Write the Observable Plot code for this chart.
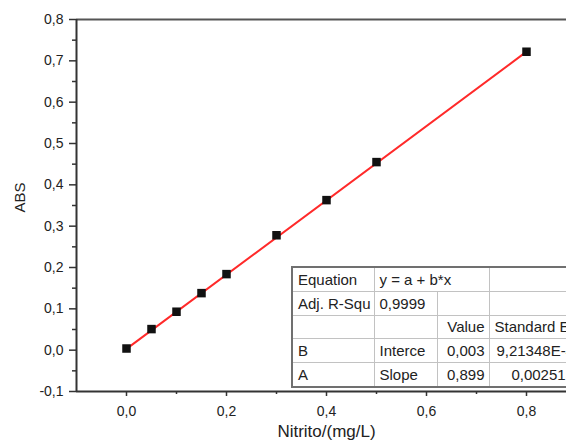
<!DOCTYPE html>
<html>
<head>
<meta charset="utf-8">
<script src="https://cdn.jsdelivr.net/npm/d3@7"></script>
<script src="https://cdn.jsdelivr.net/npm/@observablehq/plot@0.6"></script>
<style>
  html, body { margin: 0; padding: 0; background: #fff; overflow: hidden; }
  #wrap { position: relative; width: 566px; height: 446px; overflow: hidden; background: #fff; }
  #fitTable {
    position: absolute; left: 291px; top: 266px;
    border-collapse: collapse; table-layout: fixed;
    font-family: "Liberation Sans", Arial, sans-serif; font-size: 15px; color: #222;
    background: #fff; border: 2px solid #707070;
  }
  #fitTable td {
    border: 1.5px solid #c2c2c2; height: 21.8px; padding: 1px 0 0 0;
    white-space: nowrap; overflow: hidden; vertical-align: middle; line-height: 18px;
  }
  #fitTable td.l { text-align: left; padding-left: 5px; }
  #fitTable td.r { text-align: right; padding-right: 4px; }
</style>
</head>
<body>
<div id="wrap"></div>
<script>
// ---- data ----
const nitrito = [0, 0.05, 0.1, 0.15, 0.2, 0.3, 0.4, 0.5, 0.8];
const abs = [0.004, 0.051, 0.093, 0.138, 0.184, 0.278, 0.363, 0.455, 0.722];
const fitIntercept = 0.003;
const fitSlope = 0.899;
const fitXRange = [0, 0.8];
const xMajorTicks = [0, 0.2, 0.4, 0.6, 0.8];
const xMinorTicks = [0.1, 0.3, 0.5, 0.7];
const yMajorTicks = [-0.1, 0, 0.1, 0.2, 0.3, 0.4, 0.5, 0.6, 0.7, 0.8];
const yMinorTicks = [-0.05, 0.05, 0.15, 0.25, 0.35, 0.45, 0.55, 0.65, 0.75];
const xTitle = "Nitrito/(mg/L)";
const yTitle = "ABS";
const colWidths = [82, 63, 52, 90];
const tableRows = [
  [["Equation", "l"], ["y = a + b*x", "l", 2], ["", "l"]],
  [["Adj. R-Squ", "l"], ["0,9999", "l"], ["", "l"], ["", "l"]],
  [["", "l"], ["", "l"], ["Value", "r"], ["Standard Error", "l"]],
  [["B", "l"], ["Interce", "l"], ["0,003", "r"], ["9,21348E-4", "r"]],
  [["A", "l"], ["Slope", "l"], ["0,899", "r"], ["0,002513", "r"]]
];

// ---- build ----
const points = nitrito.map((x, i) => ({x, y: abs[i]}));
const fit = fitXRange.map(x => ({x, y: fitIntercept + fitSlope * x}));
const fmt = d => (Math.abs(d) < 1e-9 ? 0 : d).toFixed(1).replace(".", ",");

const chart = Plot.plot({
  width: 566,
  height: 446,
  marginLeft: 76,
  marginRight: -10,
  marginTop: 19,
  marginBottom: 55,
  x: {domain: [-0.1, 0.9]},
  y: {domain: [-0.1, 0.8]},
  style: {fontFamily: "'Liberation Sans', Arial, sans-serif", fontSize: "14px", color: "#222", background: "#fff"},
  marks: [
    Plot.axisY(yMinorTicks, {tickSize: 4, tickFormat: () => "", label: null, stroke: "#333", strokeWidth: 1.5}),
    Plot.axisY(yMajorTicks, {tickSize: 7, tickPadding: 6, tickFormat: fmt, label: null, stroke: "#333", strokeWidth: 1.5, fontSize: 14}),
    Plot.axisX(xMinorTicks, {tickSize: 3, tickFormat: () => "", label: null, stroke: "#333", strokeWidth: 1.5}),
    Plot.axisX(xMajorTicks, {tickSize: 5, tickPadding: 10, tickFormat: fmt, label: null, stroke: "#333", strokeWidth: 1.5, fontSize: 14}),
    Plot.ruleY([0.8], {stroke: "#555", strokeWidth: 2}),
    Plot.ruleX([-0.1], {stroke: "#333", strokeWidth: 2}),
    Plot.ruleY([-0.1], {stroke: "#333", strokeWidth: 2}),
    Plot.line(fit, {x: "x", y: "y", stroke: "#ff2a2a", strokeWidth: 2}),
    Plot.dot(points, {x: "x", y: "y", symbol: "square", r: 4.8, fill: "#111", stroke: "none"}),
    Plot.text([xTitle], {text: d => d, frameAnchor: "bottom", dy: 45, fontSize: 17, fill: "#222"}),
    Plot.text([yTitle], {text: d => d, frameAnchor: "left", dx: -56, dy: 7, rotate: -90, fontSize: 15, fill: "#222"})
  ]
});

const wrap = document.getElementById("wrap");
wrap.appendChild(chart);

const table = document.createElement("table");
table.id = "fitTable";
table.style.width = d3.sum(colWidths) + "px";
const cg = document.createElement("colgroup");
colWidths.forEach(w => { const c = document.createElement("col"); c.style.width = w + "px"; cg.appendChild(c); });
table.appendChild(cg);
tableRows.forEach(row => {
  const tr = document.createElement("tr");
  row.forEach(([txt, align, span]) => {
    const td = document.createElement("td");
    td.className = align;
    if (span) td.colSpan = span;
    td.textContent = txt;
    tr.appendChild(td);
  });
  table.appendChild(tr);
});
wrap.appendChild(table);
</script>
</body>
</html>
